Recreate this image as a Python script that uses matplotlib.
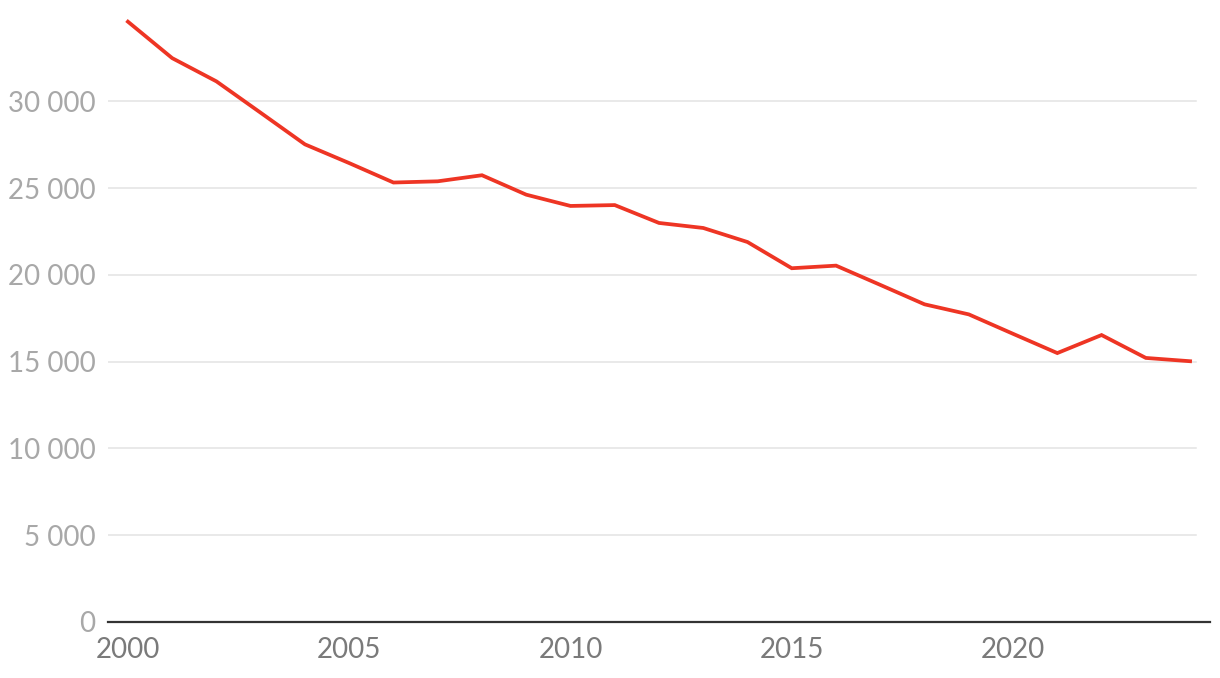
import matplotlib.pyplot as plt
from matplotlib.ticker import FuncFormatter

years = list(range(2000, 2025))
values = [34600, 32500, 31160, 29350, 27530, 26450, 25330, 25400, 25750, 24630,
          23980, 24030, 23000, 22710, 21900, 20390, 20540, 19430, 18310, 17730,
          16610, 15500, 16540, 15220, 15030]
y_ticks = [0, 5000, 10000, 15000, 20000, 25000, 30000]
x_ticks = [2000, 2005, 2010, 2015, 2020]

plt.rcParams['font.family'] = ['Lato', 'DejaVu Sans']

fig = plt.figure(figsize=(12.2, 6.78), dpi=100)
ax = fig.add_axes([108 / 1220, 56 / 678, 1102 / 1220, 622 / 678])

ax.plot(years, values, color='#ee3524', linewidth=2.7, solid_joinstyle='miter', zorder=3)

ax.set_xlim(1999.55, 2024.45)
ax.set_ylim(0, 35850)
ax.set_yticks(y_ticks)
ax.set_xticks(x_ticks)
ax.yaxis.set_major_formatter(FuncFormatter(lambda v, p: f'{int(v):,}'.replace(',', ' ')))

# gridlines stop a little short of the axis line on the right
for t in y_ticks[1:]:
    ax.plot([1999.55, 2024.13], [t, t], color='#e3e3e3', linewidth=1.1, zorder=1)
for s in ['top', 'right', 'left']:
    ax.spines[s].set_visible(False)
ax.spines['bottom'].set_color('#333333')
ax.spines['bottom'].set_linewidth(1.6)

ax.tick_params(axis='y', length=0, pad=9, labelsize=20, labelcolor='#a8a8a8')
ax.tick_params(axis='x', length=0, pad=11, labelsize=20, labelcolor='#7a7a7a')

fig.savefig('out.png', dpi=100)
